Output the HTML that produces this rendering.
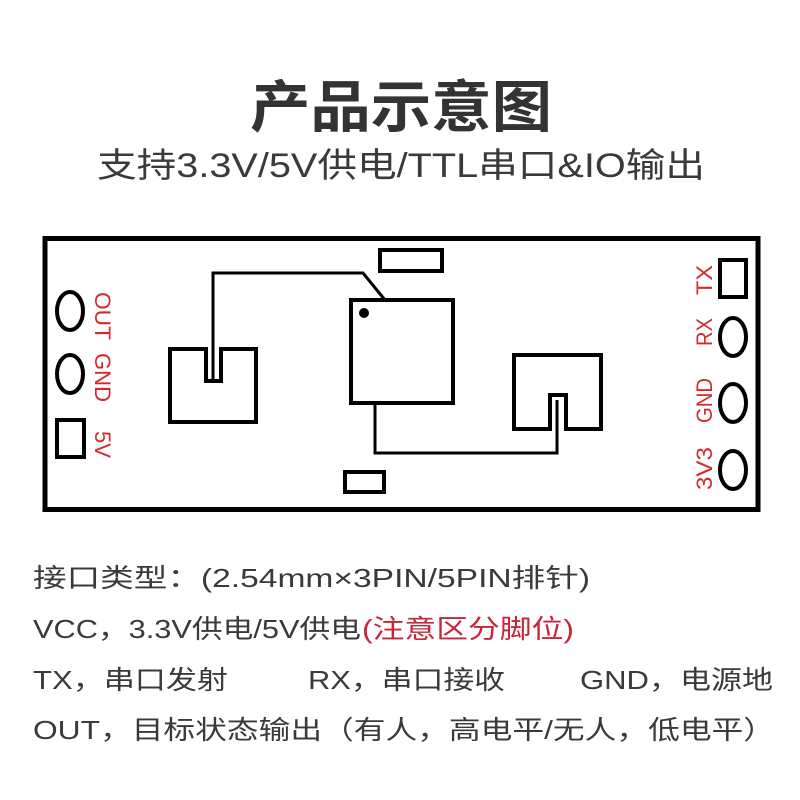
<!DOCTYPE html>
<html><head><meta charset="utf-8"><style>
html,body{margin:0;padding:0;background:#fff;}
svg{display:block;}
text{font-family:"Liberation Sans","Noto Sans CJK SC",sans-serif;}
</style></head><body>
<svg width="800" height="800" viewBox="0 0 800 800" xmlns="http://www.w3.org/2000/svg">
<rect width="800" height="800" fill="#fff"/>
<text x="250" y="127" font-size="56" font-weight="bold" fill="#333" textLength="302" lengthAdjust="spacingAndGlyphs">产品示意图</text>
<text x="97" y="177" font-size="34" fill="#3a3a3a" textLength="608" lengthAdjust="spacingAndGlyphs">支持3.3V/5V供电/TTL串口&amp;IO输出</text>

<g fill="none" stroke="#000">
<rect x="45" y="238.5" width="713" height="271" stroke-width="5"/>
<rect x="380" y="250" width="62" height="21" stroke-width="4"/>
<rect x="345" y="472" width="39" height="20" stroke-width="4"/>
<rect x="351" y="300" width="102" height="103" stroke-width="4"/>
<path d="M213 380 V273 H363 L385 300" stroke-width="3"/>
<path d="M375 403 V453 H557 V400" stroke-width="3"/>
<path d="M170 349 H206 V381 H221 V349 H256 V422 H170 Z" stroke-width="4"/>
<path d="M514 355 H601 V429 H566 V395 H550 V429 H514 Z" stroke-width="4"/>
<ellipse cx="70" cy="311" rx="13" ry="19" stroke-width="4"/>
<ellipse cx="70" cy="374" rx="13" ry="19" stroke-width="4"/>
<rect x="57" y="420" width="27" height="37" stroke-width="4"/>
<rect x="720" y="260" width="26" height="37" stroke-width="4"/>
<ellipse cx="733" cy="337" rx="13" ry="19" stroke-width="4"/>
<ellipse cx="733" cy="403" rx="13" ry="19" stroke-width="4"/>
<ellipse cx="733" cy="470" rx="13" ry="19" stroke-width="4"/>
</g>
<circle cx="364" cy="313" r="5" fill="#000"/>

<g fill="#d42a2a" font-size="22">
<text transform="translate(95,292) rotate(90)" textLength="48" lengthAdjust="spacingAndGlyphs">OUT</text>
<text transform="translate(95,353) rotate(90)" textLength="49" lengthAdjust="spacingAndGlyphs">GND</text>
<text transform="translate(95,431) rotate(90)" textLength="27" lengthAdjust="spacingAndGlyphs">5V</text>
<text transform="translate(712,295) rotate(-90)" textLength="30" lengthAdjust="spacingAndGlyphs">TX</text>
<text transform="translate(712,346) rotate(-90)" textLength="28" lengthAdjust="spacingAndGlyphs">RX</text>
<text transform="translate(712,423) rotate(-90)" textLength="45" lengthAdjust="spacingAndGlyphs">GND</text>
<text transform="translate(712,490) rotate(-90)" textLength="43" lengthAdjust="spacingAndGlyphs">3V3</text>
</g>

<g font-size="26" fill="#3a3a3a">
<text x="33" y="587" textLength="557" lengthAdjust="spacingAndGlyphs">接口类型：(2.54mm×3PIN/5PIN排针)</text>
<text x="33" y="638" textLength="328" lengthAdjust="spacingAndGlyphs">VCC，3.3V供电/5V供电</text>
<text x="362" y="638" fill="#c8253a" textLength="212" lengthAdjust="spacingAndGlyphs">(注意区分脚位)</text>
<text x="33" y="689" textLength="195" lengthAdjust="spacingAndGlyphs">TX，串口发射</text>
<text x="308" y="689" textLength="197" lengthAdjust="spacingAndGlyphs">RX，串口接收</text>
<text x="580" y="689" textLength="193" lengthAdjust="spacingAndGlyphs">GND，电源地</text>
<text x="33" y="739" textLength="742" lengthAdjust="spacingAndGlyphs">OUT，目标状态输出（有人，高电平/无人，低电平）</text>
</g>
</svg>
</body></html>
